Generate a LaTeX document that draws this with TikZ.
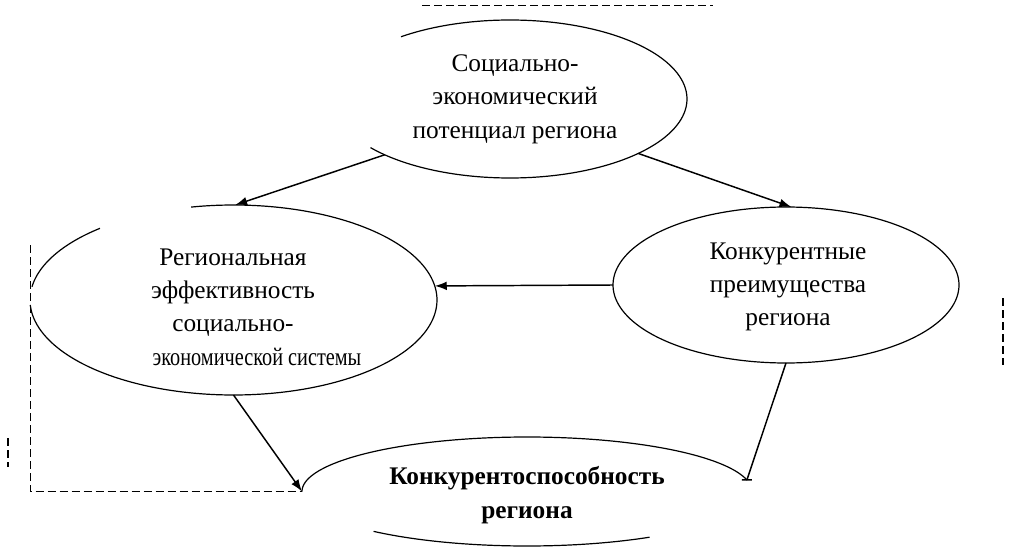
\documentclass[tikz,border=0pt]{standalone}
\usepackage{fontspec}
\setmainfont{Liberation Serif}
\usetikzlibrary{shapes.geometric,arrows.meta}
\tikzset{
  ell/.style={ellipse, draw=none, inner sep=0pt, outer sep=0pt},
  txt/.style={align=center, font=\fontsize{19}{25}\selectfont},
  outline/.style={line width=0.9pt},
  conn/.style={line width=1.1pt, -{Latex[length=9pt,width=6.5pt]}},
  barconn/.style={line width=1.1pt},
  thindash/.style={line width=0.6pt, dash pattern=on 6pt off 3pt},
  thickdash/.style={line width=1.5pt, dash pattern=on 6pt off 3pt}
}
\begin{document}
\begin{tikzpicture}[x=0.75pt,y=-0.75pt]
\useasboundingbox (0,0) rectangle (1021,556);

% ellipse nodes (shapes only)
\node[ell, minimum width=265.5pt, minimum height=118.5pt] (pot) at (510,99) {};
\node[ell, minimum width=305.25pt, minimum height=142.5pt] (reg) at (233.5,300) {};
\node[ell, minimum width=259.5pt, minimum height=117pt] (adv) at (786,285) {};
\node[ell, minimum width=337.5pt, minimum height=81.75pt] (fin) at (527,491.5) {};

% ellipse outlines (broken as in the reference)
\draw[outline] plot[domain=-142:128, samples=120, smooth] ({510+177*cos(\x)},{99-79*sin(\x)});
\draw[outline] plot[domain=183:462, samples=140, smooth] ({233.5+203.5*cos(\x)},{300-95*sin(\x)});
\draw[outline] plot[domain=131:172, samples=30, smooth] ({233.5+203.5*cos(\x)},{300-95*sin(\x)});
\draw[outline] plot[domain=0:360, samples=160, smooth] ({786+173*cos(\x)},{285-78*sin(\x)});
\draw[outline] plot[domain=12:180, samples=100, smooth] ({527+225*cos(\x)},{491.5-54.5*sin(\x)});
\draw[outline] plot[domain=-133:-57, samples=50, smooth] ({527+225*cos(\x)},{491.5-54.5*sin(\x)});

% texts
\node[txt] (tpot) at (515,99) {Социально-\\экономический\\потенциал региона};
\node[txt] (treg) at (233,307) {Региональная\\эффективность\\социально-\\\hspace*{18pt}\scalebox{0.8}[1]{экономической системы}\hspace*{-18pt}};
\node[txt] (tadv) at (788,287) {Конкурентные\\преимущества\\региона};
\node[txt, font=\fontsize{19}{25}\selectfont\bfseries] (tfin) at (527,495) {Конкурентоспособность\\региона};

% connectors
\draw[conn] (pot.204) -- (reg.89);
\draw[conn] (pot.-23) -- (adv.86);
\draw[conn] (adv.180) -- (reg.4);
\draw[conn] (reg.270) -- (fin.west);
\draw[barconn] (adv.270) -- (fin.3) ++(-5,0) -- ++(10,0);

% dashed lines
\coordinate (dtl) at (422,5);
\coordinate (dtr) at (713,5);
\coordinate (dl) at (30,245);
\draw[thindash] (dtl) -- (dtr);
\draw[thindash] (dl) |- (fin.west);
\coordinate (s1a) at (8,438);
\coordinate (s1b) at (8,467);
\coordinate (s2a) at (1003,298);
\coordinate (s2b) at (1003,365);
\draw[thickdash] (s1a) -- (s1b);
\draw[thickdash] (s2a) -- (s2b);
\end{tikzpicture}
\end{document}
